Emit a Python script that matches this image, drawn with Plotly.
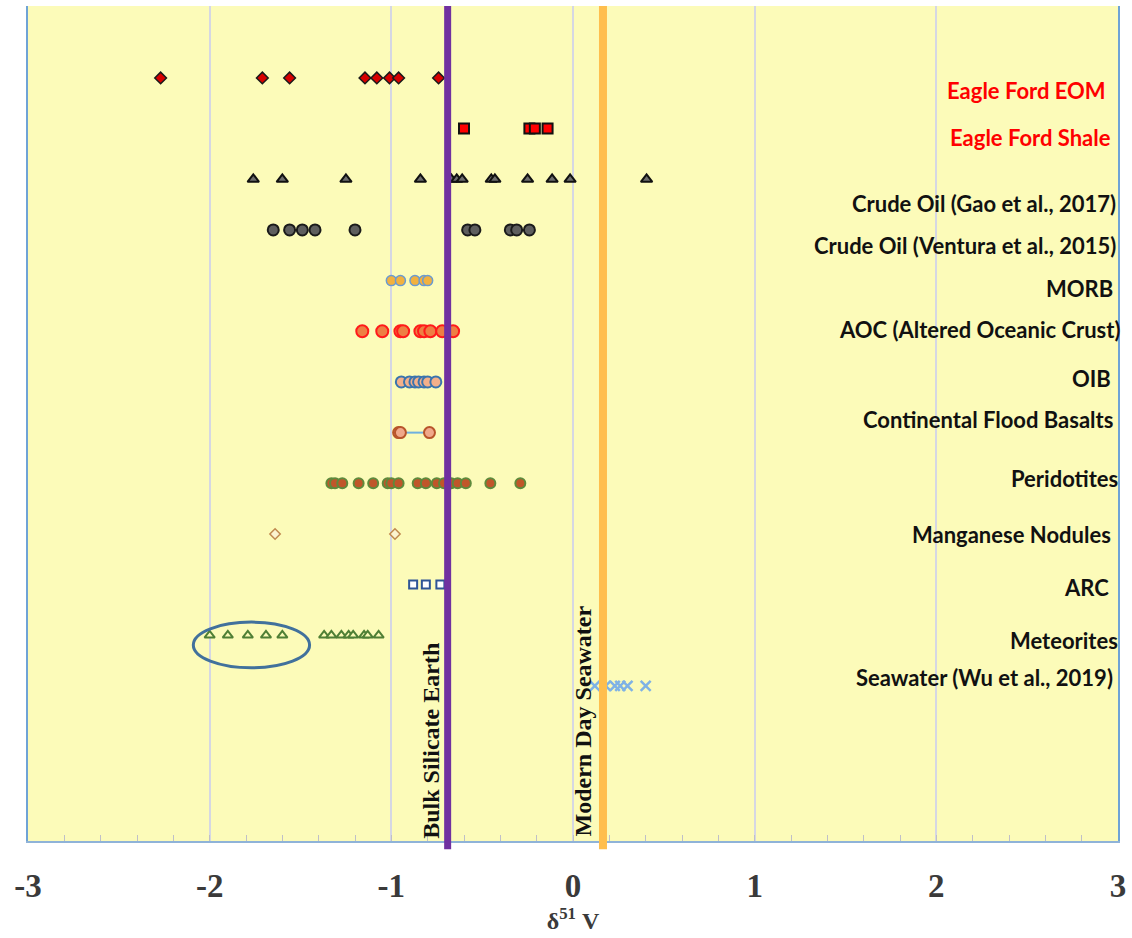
import plotly.graph_objects as go

# ---------------- data (delta 51 V) ----------------
eagle_ford_eom = [-2.27, -1.71, -1.56, -1.145, -1.08, -1.01, -0.96, -0.74]
eagle_ford_shale = [-0.60, -0.24, -0.21, -0.14]
crude_gao = [-1.76, -1.60, -1.25, -0.84, -0.67, -0.64, -0.61, -0.45, -0.43, -0.25, -0.115, -0.016, 0.405]
crude_ventura = [-1.65, -1.56, -1.49, -1.42, -1.20, -0.58, -0.54, -0.345, -0.31, -0.24]
morb = [-1.00, -0.95, -0.87, -0.82, -0.80]
aoc = [-1.16, -1.05, -0.95, -0.935, -0.84, -0.82, -0.785, -0.72, -0.66]
oib = [-0.945, -0.90, -0.87, -0.85, -0.82, -0.80, -0.755]
cfb = [-0.96, -0.95, -0.79]
peridotites = [-1.33, -1.31, -1.27, -1.18, -1.10, -1.02, -1.00, -0.96, -0.855, -0.81,
               -0.75, -0.71, -0.67, -0.635, -0.59, -0.455, -0.29]
mn_nodules = [-1.64, -0.98]
arc = [-0.88, -0.81, -0.73]
meteorites = [-2.00, -1.90, -1.79, -1.69, -1.60, -1.37, -1.33, -1.275, -1.235, -1.21, -1.15, -1.13, -1.07]
seawater = [0.12, 0.18, 0.23, 0.26, 0.30, 0.40]

bse_value = -0.69
modern_seawater_value = 0.165

categories = ["Eagle Ford EOM", "Eagle Ford Shale", "Crude Oil (Gao et al., 2017)",
              "Crude Oil (Ventura et al., 2015)", "MORB", "AOC (Altered Oceanic Crust)", "OIB",
              "Continental Flood Basalts", "Peridotites", "Manganese Nodules", "ARC",
              "Meteorites", "Seawater (Wu et al., 2019)"]
row_levels = [15, 14, 13, 12, 11, 10, 9, 8, 7, 6, 5, 4, 3]
x_tick_vals = [-3, -2, -1, 0, 1, 2, 3]
x_tick_text = ["-3", "-2", "-1", "0", "1", "2", "3"]

# ---------------- styles ----------------
series_values = [eagle_ford_eom, eagle_ford_shale, crude_gao, crude_ventura, morb, aoc, oib,
                 cfb, peridotites, mn_nodules, arc, meteorites, seawater]
styles = [
    dict(symbol="diamond", size=9, color="#D80000", line=dict(color="#1A1A1A", width=1.5)),
    dict(symbol="square", size=10, color="#FF0000", line=dict(color="#111111", width=2)),
    dict(symbol="triangle-up", size=10, color="#6E6E6E", line=dict(color="#111111", width=2)),
    dict(symbol="circle", size=11, color="#5E5E5E", line=dict(color="#1A1A1A", width=2)),
    dict(symbol="circle", size=10, color="#F2B13F", line=dict(color="#6A9BD1", width=1.5)),
    dict(symbol="circle", size=12, color="#EE7E43", line=dict(color="#FF1A1A", width=2)),
    dict(symbol="circle", size=11, color="#F4B08A", line=dict(color="#3A74AE", width=2)),
    dict(symbol="circle", size=11, color="#F0A88A", line=dict(color="#B8542A", width=2)),
    dict(symbol="circle", size=10, color="#C0562A", line=dict(color="#5E8A3C", width=2)),
    dict(symbol="diamond", size=8, color="#FBF3D0", line=dict(color="#C08A50", width=1.5)),
    dict(symbol="square", size=8, color="#FFFFFF", line=dict(color="#2F5597", width=2)),
    dict(symbol="triangle-up", size=9, color="#FCFBB8", line=dict(color="#4F7F35", width=2)),
    dict(symbol="x-thin-open", size=10, color="#7FB2E5", line=dict(color="#7FB2E5", width=2.5)),
]
label_colors = ["#FF0000", "#FF0000"] + ["#111111"] * 11
label_y = [14.76, 13.83, 12.53, 11.70, 10.85, 10.03, 9.06, 8.25, 7.09, 5.98, 4.95, 3.90, 3.16]
label_right_px = [1112, 1117, 1122, 1122, 1119, 1127, 1117, 1119, 1124, 1117, 1115, 1124, 1119]

fig = go.Figure()
for name, vals, lvl, st in zip(categories, series_values, row_levels, styles):
    mode = "markers"
    line = None
    if name == "Continental Flood Basalts":
        mode = "lines+markers"
        line = dict(color="#6FB0E0", width=2)
    fig.add_trace(go.Scatter(
        x=vals, y=[lvl] * len(vals), mode=mode, name=name,
        marker=dict(symbol=st["symbol"], size=st["size"], color=st["color"], line=st["line"]),
        line=line, showlegend=False, cliponaxis=False))

# reference lines
fig.add_shape(type="line", xref="x", yref="paper", x0=bse_value, x1=bse_value, y0=-0.01, y1=1,
              line=dict(color="#7030A0", width=7), layer="above")
fig.add_shape(type="line", xref="x", yref="paper", x0=modern_seawater_value, x1=modern_seawater_value,
              y0=-0.01, y1=1, line=dict(color="#FFBE4D", width=8), layer="above")

# ellipse around low meteorite values
fig.add_shape(type="circle", xref="x", yref="y", x0=-2.09, x1=-1.45, y0=3.36, y1=4.26,
              line=dict(color="#41719C", width=3), fillcolor="rgba(0,0,0,0)")

# vertical line labels
fig.add_annotation(x=bse_value - 0.09, y=-0.05, xref="x", yref="y", text="Bulk Silicate Earth",
                   textangle=-90, showarrow=False, xanchor="center", yanchor="bottom",
                   font=dict(family="Liberation Serif", size=24, color="#111111", weight="bold"))
fig.add_annotation(x=modern_seawater_value - 0.11, y=0.0, xref="x", yref="y", text="Modern Day Seawater",
                   textangle=-90, showarrow=False, xanchor="center", yanchor="bottom",
                   font=dict(family="Liberation Serif", size=24, color="#111111", weight="bold"))

# category labels (paper x so they are never hidden near the right edge)
for name, ly, rpx, col in zip(categories, label_y, label_right_px, label_colors):
    fig.add_annotation(x=(rpx - 28) / 1094, y=ly, xref="paper", yref="y", text=name, showarrow=False,
                       xanchor="right", yanchor="middle",
                       font=dict(family="Lato", size=22, color=col, weight="bold"))

fig.update_layout(
    width=1132, height=938,
    margin=dict(l=28, r=10, t=6, b=97),
    paper_bgcolor="#FFFFFF", plot_bgcolor="#FCFBB9",
    showlegend=False,
    xaxis=dict(range=[-3, 3], tickvals=x_tick_vals, ticktext=x_tick_text,
               tickfont=dict(family="Liberation Serif", size=33, color="#3A3A3A", weight="bold"),
               ticks="inside", ticklen=6, tickcolor="#BFBFC8", ticklabelstandoff=14,
               showgrid=True, gridcolor="#D5D7E3", gridwidth=1.5, zeroline=False,
               showline=True, linecolor="#8FB3D8", linewidth=2,
               minor=dict(dtick=0.2, ticks="inside", ticklen=6, tickcolor="#BFBFC8", showgrid=False),
               title=dict(text="δ<sup>51</sup> V", standoff=9,
                          font=dict(family="Liberation Serif", size=24, color="#3A3A3A", weight="bold"))),
    yaxis=dict(range=[-0.06, 16.42], showticklabels=False, ticks="", showgrid=False, zeroline=False,
               showline=True, mirror=True, linecolor="#6FA3D6", linewidth=2),
)

fig.write_html("out.html")
